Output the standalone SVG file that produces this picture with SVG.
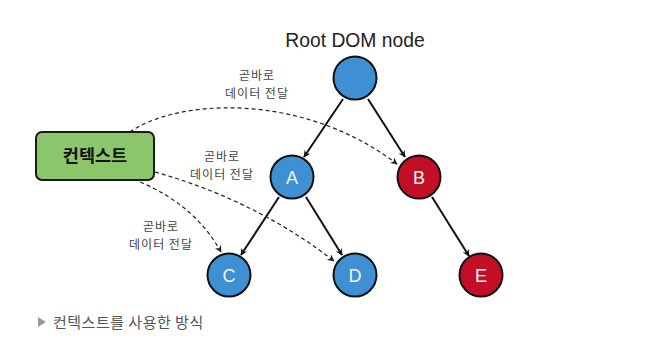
<svg xmlns="http://www.w3.org/2000/svg" width="670" height="344" viewBox="0 0 670 344">
<defs>
<marker id="ah" viewBox="0 0 10 10" refX="9" refY="5" markerWidth="7" markerHeight="7" orient="auto" markerUnits="userSpaceOnUse">
<path d="M0,0 L10,5 L0,10 L3,5 z" fill="#111"/>
</marker>
<marker id="ahd" viewBox="0 0 10 10" refX="9" refY="5" markerWidth="7" markerHeight="7" orient="auto" markerUnits="userSpaceOnUse">
<path d="M0,0 L10,5 L0,10 L3,5 z" fill="#222"/>
</marker>
</defs>
<style>
.blue{fill:#3f8fd3;stroke:#111;stroke-width:2}
.red{fill:#c30f26;stroke:#111;stroke-width:2}
.nl{font-family:"Liberation Sans",Arial,sans-serif;font-size:18px;fill:#f4f4f4;text-anchor:middle}
.lbl{font-family:"Noto Sans CJK KR","Liberation Sans",sans-serif;font-size:12px;letter-spacing:1px;fill:#444;text-anchor:middle}
.solid{stroke:#111;stroke-width:2;fill:none;marker-end:url(#ah)}
.dash{stroke:#222;stroke-width:1.2;fill:none;stroke-dasharray:4,3;marker-end:url(#ahd)}
</style>
<rect width="670" height="344" fill="#fff"/>
<text x="355" y="47" font-family="'Liberation Sans',Arial,sans-serif" font-size="19.3" fill="#222" text-anchor="middle">Root DOM node</text>
<g id="connectors">
<path class="solid" d="M343,99 L304,157"/>
<path class="solid" d="M368,99 L405,157"/>
<path class="solid" d="M279,197 L241,255"/>
<path class="solid" d="M306,197 L342,255"/>
<path class="solid" d="M432,197 L469,256"/>
<path class="dash" d="M130,132 C175,100 300,90 397,164"/>
<path class="dash" d="M155,172 Q255,200 334,261"/>
<path class="dash" d="M140,182 Q195,205 221,252"/>
</g>
<g id="labels">
<text class="lbl" x="257" y="80">곧바로</text>
<text class="lbl" x="257" y="98">데이터 전달</text>
<text class="lbl" x="222" y="161">곧바로</text>
<text class="lbl" x="222" y="179">데이터 전달</text>
<text class="lbl" x="161" y="231">곧바로</text>
<text class="lbl" x="161" y="249">데이터 전달</text>
</g>
<g id="context">
<rect x="36" y="132" width="118" height="48" rx="6" fill="#8cc66b" stroke="#1a1a1a" stroke-width="2"/>
<text x="95" y="162" font-family="'Noto Sans CJK KR',sans-serif" font-size="17.5" font-weight="bold" fill="#111" text-anchor="middle">컨텍스트</text>
</g>
<g id="root"><circle class="blue" cx="355" cy="78" r="21.5"/></g>
<g id="A"><circle class="blue" cx="292" cy="177" r="21.5"/><text class="nl" x="292" y="183.5">A</text></g>
<g id="B"><circle class="red" cx="419" cy="177" r="21.5"/><text class="nl" x="419" y="183.5">B</text></g>
<g id="C"><circle class="blue" cx="229" cy="275" r="21.5"/><text class="nl" x="229" y="281.5">C</text></g>
<g id="D"><circle class="blue" cx="355" cy="275" r="21.5"/><text class="nl" x="355" y="281.5">D</text></g>
<g id="E"><circle class="red" cx="481" cy="275" r="21.5"/><text class="nl" x="481" y="281.5">E</text></g>
<g id="caption">
<path d="M38,317 L46,322 L38,327 z" fill="#999"/>
<text x="53" y="327.5" font-family="'Noto Sans CJK KR',sans-serif" font-size="15" letter-spacing="0.5" fill="#555">컨텍스트를 사용한 방식</text>
</g>
</svg>
